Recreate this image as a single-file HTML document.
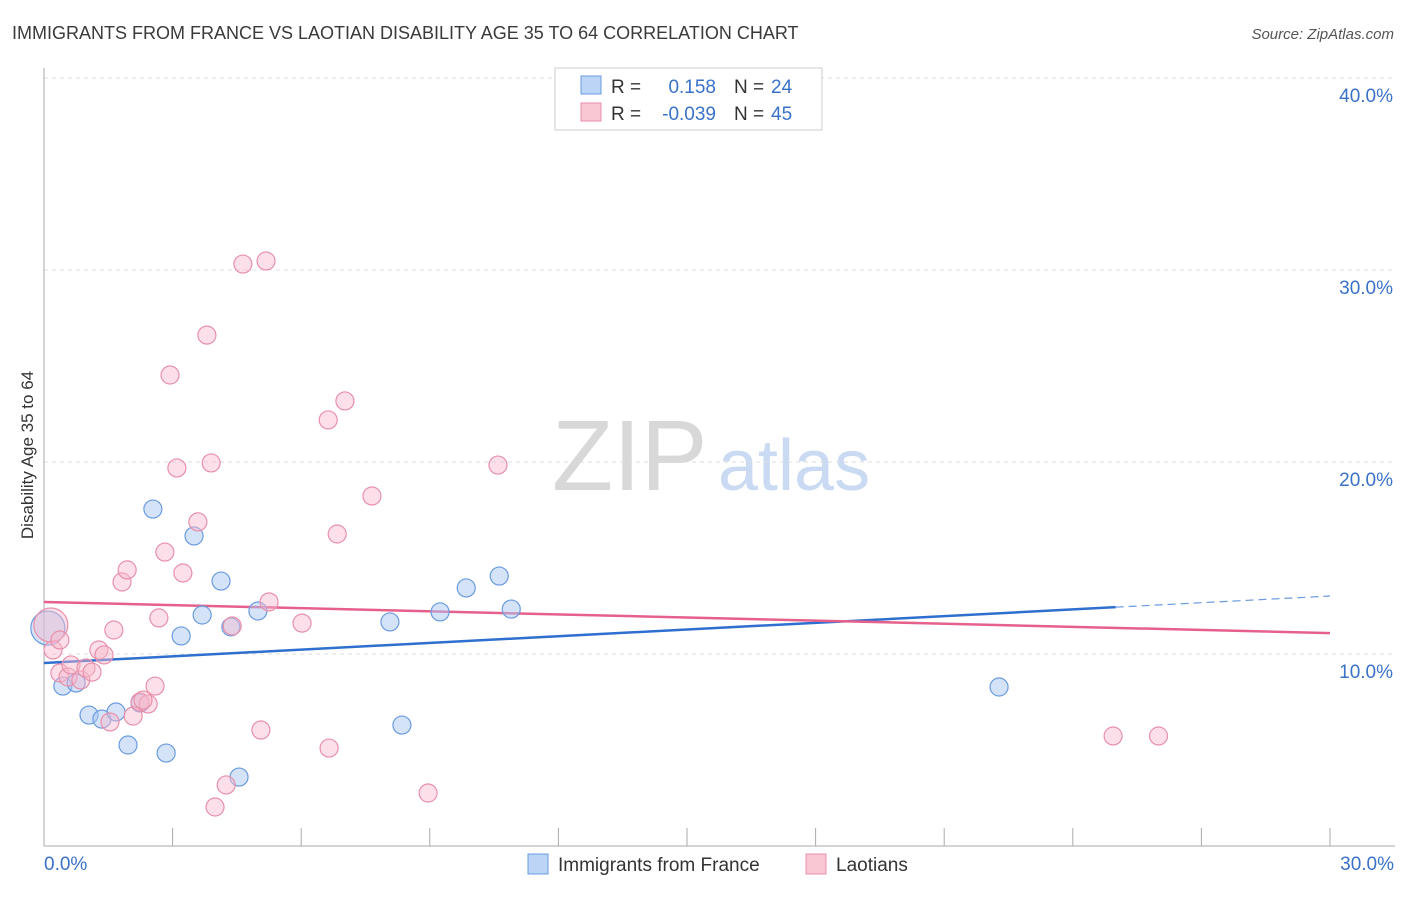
<!DOCTYPE html>
<html><head><meta charset="utf-8"><style>
body{margin:0;background:#fff;font-family:"Liberation Sans",sans-serif}
svg text{font-family:"Liberation Sans",sans-serif}
</style></head><body>
<svg id="chart" width="1406" height="892" xmlns="http://www.w3.org/2000/svg">
<text x="12" y="39" font-size="18" fill="#3a3a3a">IMMIGRANTS FROM FRANCE VS LAOTIAN DISABILITY AGE 35 TO 64 CORRELATION CHART</text>
<text x="1394" y="39" font-size="15" fill="#555" text-anchor="end" font-style="italic">Source: ZipAtlas.com</text>
<g>
<text x="552" y="490" font-size="100" fill="#d8d8d8" font-family="Liberation Serif,serif">ZIP</text>
<text x="718" y="490" font-size="72" fill="#c9daf2">atlas</text>
</g>
<g id="grid"></g>
<g id="axes"></g>
<g id="lines"></g>
<g id="pts"></g>
<text transform="translate(33,455) rotate(-90)" font-size="17" fill="#333" text-anchor="middle">Disability Age 35 to 64</text>
<g>
<rect x="555" y="68" width="267" height="62" fill="#fff" stroke="#ccc"/>
<rect x="581" y="76" width="20" height="18" fill="#bcd4f5" stroke="#6a9be0"/>
<rect x="581" y="103" width="20" height="18" fill="#f9c6d4" stroke="#e890ab"/>
<text x="611" y="93" font-size="19" fill="#333">R = </text><text x="716" y="93" font-size="19" fill="#3a72c8" text-anchor="end">0.158</text>
<text x="734" y="93" font-size="19" fill="#333">N = </text><text x="771" y="93" font-size="19" fill="#3a72c8">24</text>
<text x="611" y="120" font-size="19" fill="#333">R = </text><text x="716" y="120" font-size="19" fill="#3a72c8" text-anchor="end">-0.039</text>
<text x="734" y="120" font-size="19" fill="#333">N = </text><text x="771" y="120" font-size="19" fill="#3a72c8">45</text>
</g>
<g>
<rect x="528" y="854" width="20" height="20" fill="#bcd4f5" stroke="#6a9be0"/>
<text x="558" y="871" font-size="19" fill="#333">Immigrants from France</text>
<rect x="806" y="854" width="20" height="20" fill="#f9c6d4" stroke="#e890ab"/>
<text x="836" y="871" font-size="19" fill="#333">Laotians</text>
</g>
</svg>
<script>
const yTicks=[10,20,30,40];
const yTickLabels=["10.0%","20.0%","30.0%","40.0%"];
const xTickVals=[0,3,6,9,12,15,18,21,24,27,30];
const blueX=[0.09,0.44,0.75,1.05,1.35,1.68,1.96,2.24,2.54,2.85,3.20,3.50,3.69,4.13,4.36,4.55,4.99,8.07,8.35,9.24,9.85,10.62,10.90,22.28];
const blueY=[11.35,8.33,8.49,6.82,6.61,6.98,5.26,7.45,17.55,4.84,10.94,16.15,12.03,13.80,11.41,3.59,12.24,11.67,6.30,12.19,13.44,14.06,12.34,8.28];
const pinkX=[0.16,0.21,0.37,0.56,0.63,0.86,0.98,1.12,1.28,1.40,1.54,1.63,1.82,1.94,2.08,2.24,2.43,2.59,2.68,2.82,2.94,3.10,3.24,3.59,3.80,3.90,3.99,4.25,4.39,4.64,5.06,5.18,5.25,6.02,6.63,6.65,6.84,7.02,7.65,8.96,10.59,24.94,26.00,2.31,0.37];
const pinkY=[11.51,10.21,9.01,8.80,9.43,8.65,9.27,9.06,10.21,9.95,6.46,11.25,13.75,14.38,6.77,7.50,7.40,8.33,11.88,15.31,24.53,19.69,14.22,16.88,26.61,19.95,2.03,3.18,11.46,30.31,6.04,30.47,12.71,11.61,22.19,5.10,16.25,23.18,18.23,2.76,19.84,5.73,5.73,7.60,10.73];
const blueLine=[9.53,13.02]; const blueSolidEnd=25.0;
const pinkLine=[12.71,11.09];
const NS="http://www.w3.org/2000/svg";
const X=v=>44+v/30*1286, Y=v=>846-v*19.2;
function mk(t,a,p){const e=document.createElementNS(NS,t);for(const k in a)e.setAttribute(k,a[k]);p.appendChild(e);return e;}
const grid=document.getElementById('grid'),axes=document.getElementById('axes');
yTicks.forEach((v,i)=>{
 const l=mk('line',{x1:44,x2:1395,y1:Y(v),y2:Y(v),stroke:'#ddd','stroke-dasharray':'4,4'},grid);
 
 
 const t=mk('text',{x:1393,y:Y(v)+24,'font-size':19,fill:'#3a72c8','text-anchor':'end'},axes);
 t.textContent=yTickLabels[i];
 
 
});
mk('line',{x1:44,x2:44,y1:68,y2:846,stroke:'#aaa'},axes);
mk('line',{x1:44,x2:1395,y1:846,y2:846,stroke:'#aaa'},axes);
xTickVals.forEach(v=>{const t=mk('line',{x1:X(v),x2:X(v),y1:828,y2:846,stroke:'#aaa'},axes);
 
 });
let a=mk('text',{x:44,y:870,'font-size':19,fill:'#3a72c8'},axes);a.textContent='0.0%';


a=mk('text',{x:1394,y:870,'font-size':19,fill:'#3a72c8','text-anchor':'end'},axes);a.textContent='30.0%';


const pts=document.getElementById('pts');
function dot(x,y,blue,i){const big=(i===0);
 const c=mk('circle',{cx:X(x),cy:Y(y),r:big?17:9,fill:blue?'rgba(170,200,242,0.5)':'rgba(248,184,204,0.45)',stroke:blue?'#6a9be0':'#e890ab','stroke-width':1.2},pts);
 
 }
blueX.forEach((x,i)=>dot(x,blueY[i],true,i));
pinkX.forEach((x,i)=>dot(x,pinkY[i],false,i));
const ln=document.getElementById('lines');
const lerp=(l,x)=>l[0]+(l[1]-l[0])*x/30;
let e=mk('line',{x1:X(0),y1:Y(blueLine[0]),x2:X(blueSolidEnd),y2:Y(lerp(blueLine,blueSolidEnd)),stroke:'#2f6fd0','stroke-width':2.5},ln);


e=mk('line',{x1:X(blueSolidEnd),y1:Y(lerp(blueLine,blueSolidEnd)),x2:X(30),y2:Y(blueLine[1]),stroke:'#6a9be0','stroke-width':1.2,'stroke-dasharray':'8,5'},ln);


e=mk('line',{x1:X(0),y1:Y(pinkLine[0]),x2:X(30),y2:Y(pinkLine[1]),stroke:'#e6608c','stroke-width':2.5},ln);


</script>
</body></html>
